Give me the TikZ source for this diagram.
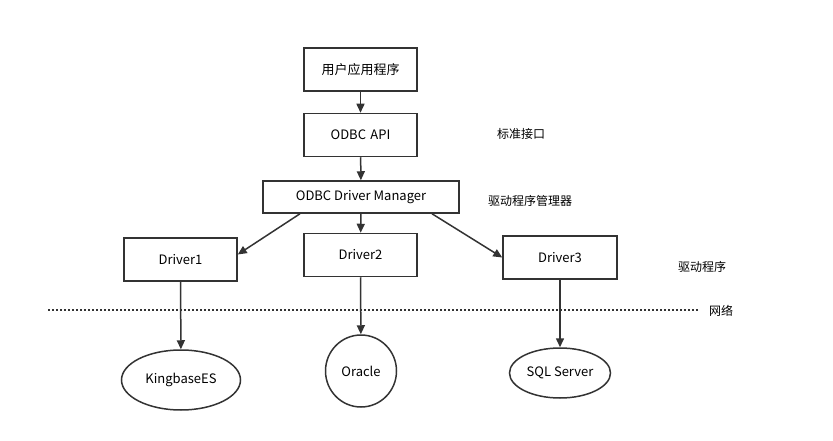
\documentclass[tikz,border=0pt]{standalone}
\usepackage{fontspec}
\setmainfont{Noto Sans CJK SC}
\usetikzlibrary{arrows.meta,calc,shapes.geometric}
\definecolor{ink}{HTML}{333333}
\tikzset{
  box/.style={draw=ink, line width=1.5pt, minimum width=113pt, minimum height=43pt, font=\fontsize{13}{15}\selectfont},
  db/.style={draw=ink, line width=1.5pt, ellipse, inner sep=0pt, font=\fontsize{13}{15}\selectfont},
  arr/.style={draw=ink, line width=1.5pt, -{Triangle[length=9pt,width=8pt]}},
  side/.style={font=\fontsize{12}{14}\selectfont}
}
\begin{document}
\begin{tikzpicture}[x=1pt,y=-1pt]
        \useasboundingbox (0,0) rectangle (833,441);
        % top chain
        \node[box] (app) at (360.5,69.5) {用户应用程序};
        \node[box] (api) at (360.5,135) {ODBC\,\,API};
        \node[box, minimum width=196pt, minimum height=32pt] (mgr) at (361,197) {ODBC Driver Manager};
        % drivers
        \node[box] (d1) at (180.5,259.5) {Driver1};
        \node[box] (d2) at (360.5,255) {Driver2};
        \node[box, minimum width=114pt] (d3) at (560,257.5) {Driver3};
        % databases
        \node[db, minimum width=119pt, minimum height=60pt] (kes) at (181,380) {KingbaseES};
        \node[db, minimum width=71pt, minimum height=72pt] (ora) at (361,371) {Oracle};
        \node[db, minimum width=101pt, minimum height=50pt] (sql) at (560,373) {SQL Server};
        % side labels
        \node[side] (std) at (521,134) {标准接口};
        \node[side] (drvmgr) at (530,201) {驱动程序管理器};
        \node[side] (drv) at (702,267) {驱动程序};
        \node[side] (net) at (721,311) {网络};
        % network line
        \coordinate (nl) at (48,310);
        \coordinate (nr) at (700,310);
        \draw[ink, line width=1.5pt, dash pattern=on 1.5pt off 2.5pt] (nl) -- (nr);
        % arrows
        \draw[arr] (app) -- (api);
        \draw[arr] (api) -- (mgr);
        \draw[arr] ($(mgr.south)+(-61,0)$) -- (d1.5);
        \draw[arr] (mgr) -- (d2);
        \draw[arr] ($(mgr.south)+(71,0)$) -- (d3.west);
        \draw[arr] (d1) -- (kes);
        \draw[arr] (d2) -- (ora);
        \draw[arr] (d3) -- (sql);
\end{tikzpicture}
\end{document}
